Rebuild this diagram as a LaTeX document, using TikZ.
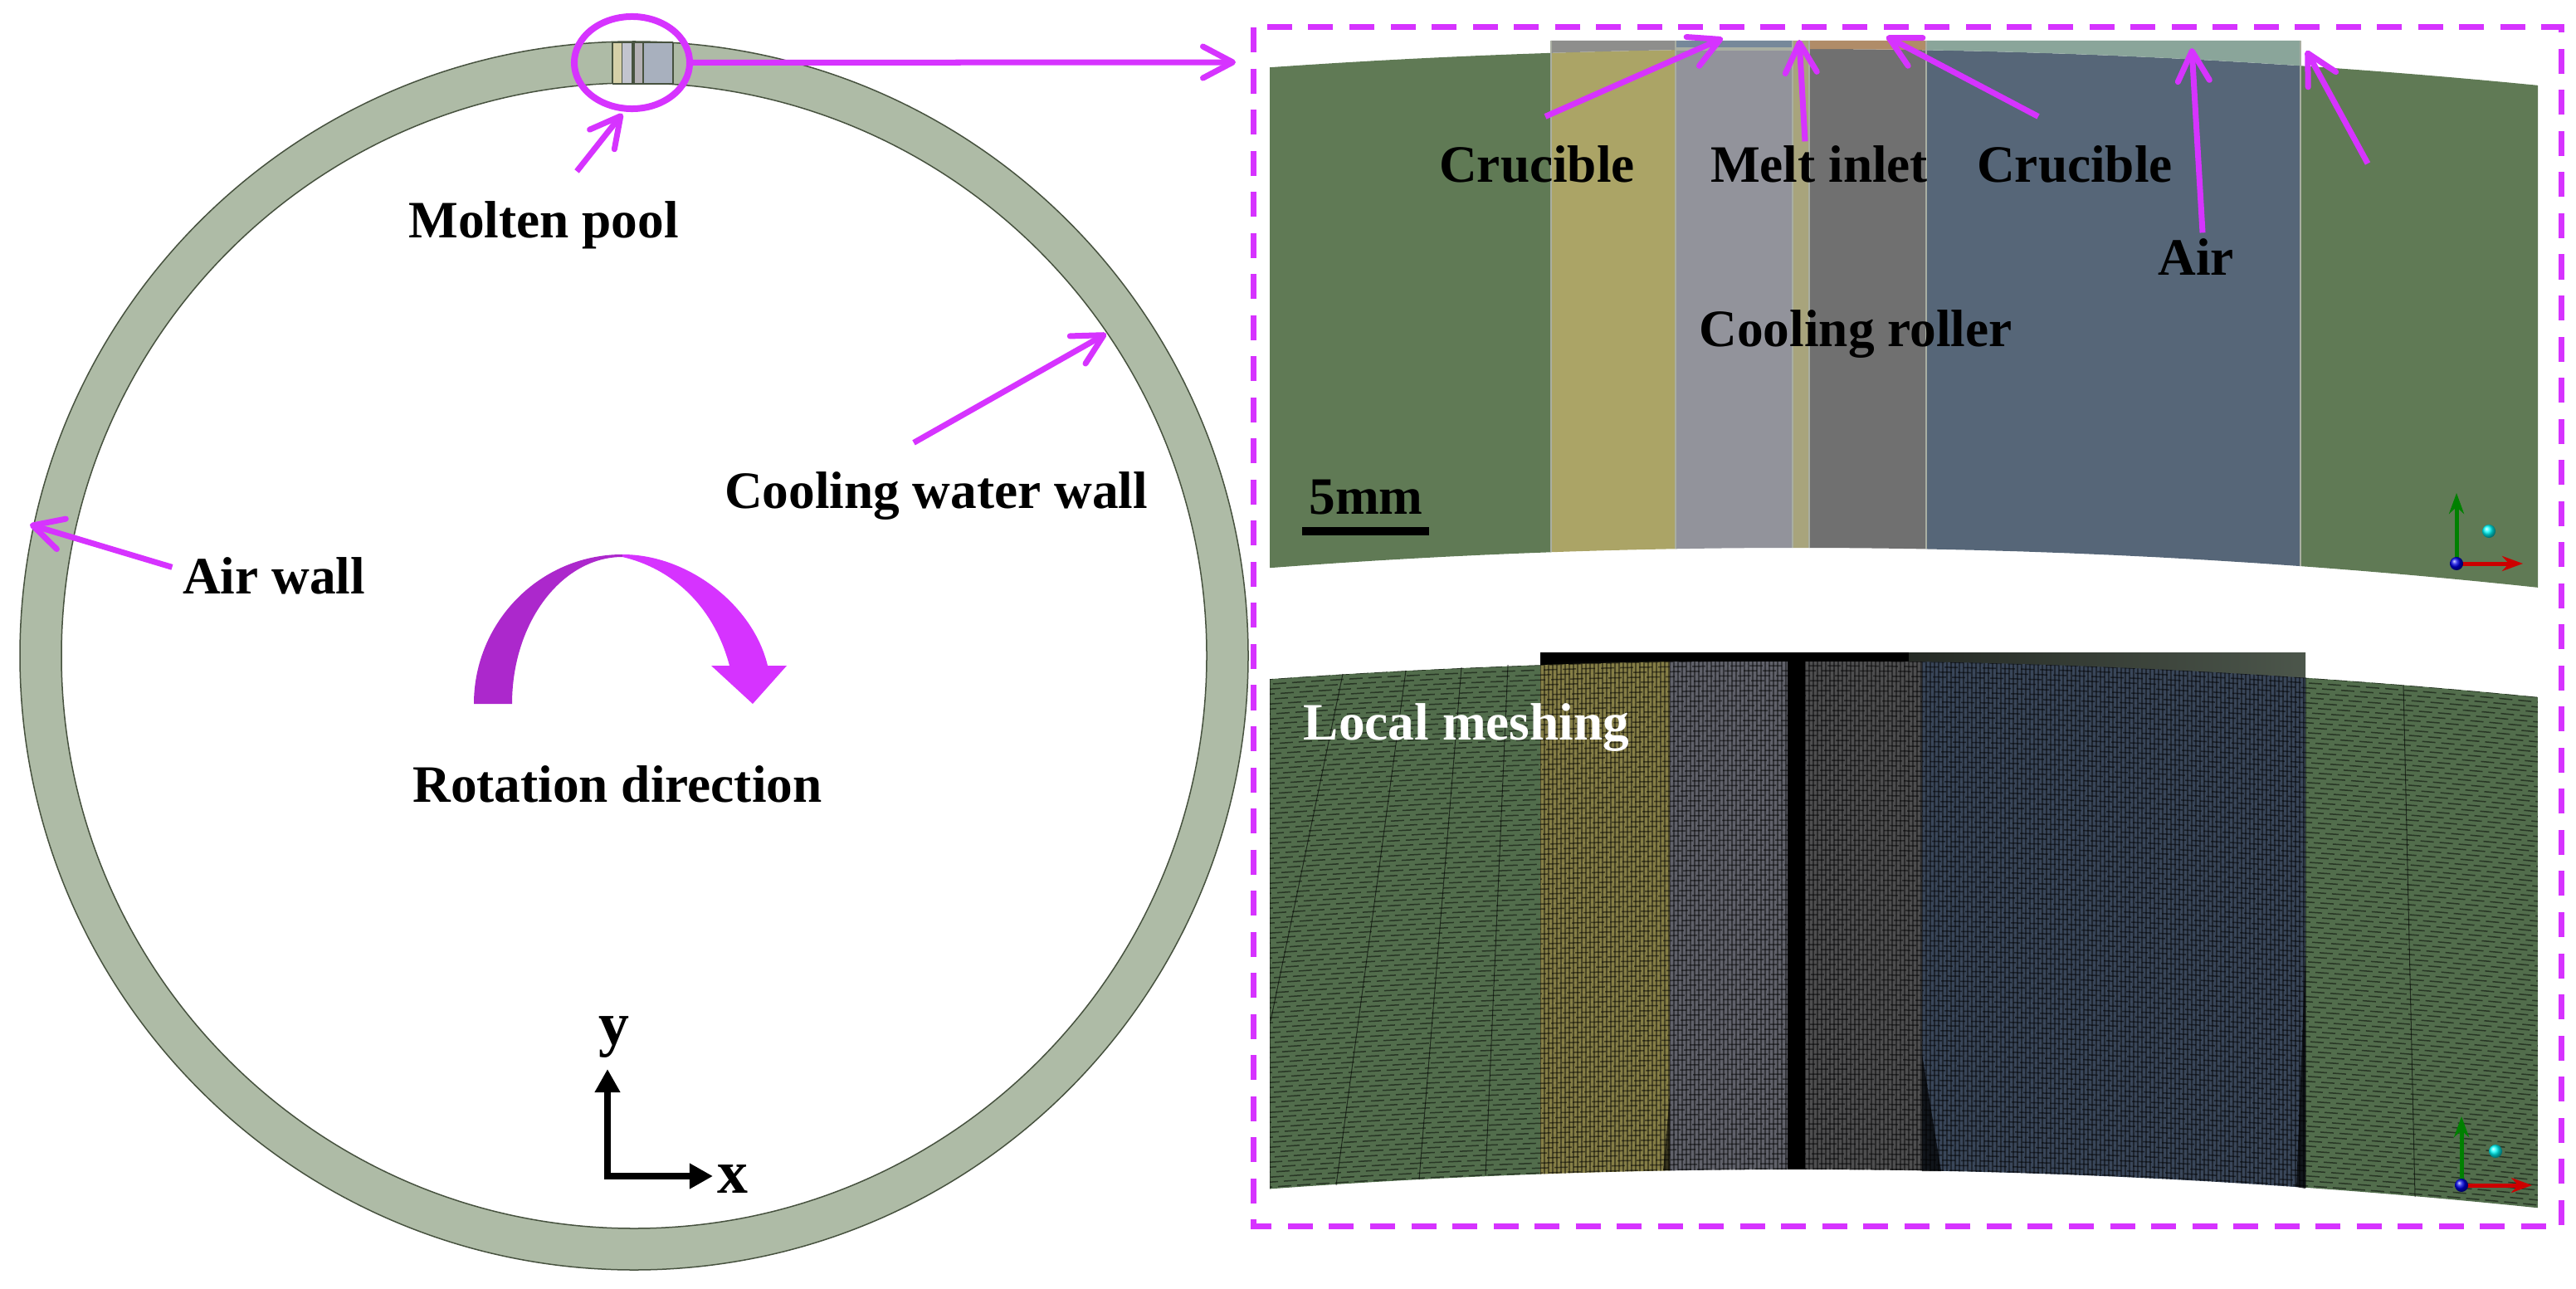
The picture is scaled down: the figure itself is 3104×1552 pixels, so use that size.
\documentclass[tikz,border=0pt]{standalone}
\usepackage{fontspec}
\setmainfont{Liberation Serif}
\usetikzlibrary{arrows.meta,shapes.geometric}
\definecolor{calloutmag}{HTML}{D633FF}
\definecolor{turnmag}{HTML}{AC28CC}
\definecolor{ringfill}{HTML}{AEBBA6}
\definecolor{ringedge}{HTML}{47523F}
\definecolor{bandgreen}{HTML}{607A55}
\definecolor{bandyellow}{HTML}{ABA466}
\definecolor{bandgrey}{HTML}{92939B}
\definecolor{bandinlet}{HTML}{A8A47C}
\definecolor{banddark}{HTML}{707070}
\definecolor{bandblue}{HTML}{566678}
\definecolor{stripgrey}{HTML}{8E8E8C}
\definecolor{stripblue}{HTML}{76889A}
\definecolor{striporange}{HTML}{B08C68}
\definecolor{stripteal}{HTML}{8AA59A}
\definecolor{paleedge}{HTML}{A9AEA2}
\definecolor{meshgreen}{HTML}{526D4C}
\definecolor{meshyellow}{HTML}{857E46}
\definecolor{meshgrey}{HTML}{60616A}
\definecolor{meshdark}{HTML}{4E4E4F}
\definecolor{meshblue}{HTML}{394659}
\definecolor{meshcap}{HTML}{4C564B}
\tikzset{
  label/.style={font=\fontsize{18}{20}\bfseries\selectfont,inner sep=0pt,anchor=base},
  axislabel/.style={font=\fontsize{21}{23}\bfseries\selectfont,inner sep=0pt,anchor=base},
  callout/.style={draw=calloutmag,line width=.07cm,-{Straight Barb[length=.36cm,width=.38cm,line width=.07cm,round]}},
  meshrow/.style={black,opacity=.5,line width=.015cm,dash pattern=on .16cm off .07cm},
  meshcol/.style={black,opacity=.45,line width=.015cm},
}
\begin{document}
\begin{tikzpicture}[x=.01cm,y=-.01cm,line cap=butt,
    declare function={bandpar(\x)=((\x-2165)/100)^2;}]
  \useasboundingbox (0,0) rectangle (3104,1552);
  % ring
  \draw[ringedge,line width=.015cm,fill=ringfill,even odd rule]
    (764,790) circle[radius=740] (764,790) circle[radius=690];
  \foreach \xa/\xb/\colname in {738/749/D6D0A8,749/761/C2C4CE,761/775/B4B0B4,775/811/A8B0BE}{
    \definecolor{poolcol}{HTML}{\colname}
    \fill[poolcol] (\xa,51) rectangle (\xb,101);
  }
  \foreach \xe/\wd in {738/.012,749/.006,763/.045,775/.012,811/.012}
    \draw[ringedge,line width=\wd cm] (\xe,51)--(\xe,101);
  \draw[ringedge,line width=.012cm] (738,51)--(811,51) (738,101)--(811,101);
  \node[draw=calloutmag,ellipse,line width=.08cm,inner sep=0pt,minimum width=1.39cm,minimum height=1.11cm]
    (zoomring) at (761.5,75.5) {};
  % turning arrow
  \fill[turnmag] (571,848) .. controls (571,749) and (651,668) .. (750,668)
    -- (750,671) .. controls (677,671) and (617,750) .. (617,848) -- cycle;
  \fill[calloutmag] (750,668) .. controls (830,668) and (908,730) .. (925,802)
    -- (948,802) -- (907,848) -- (857,802) -- (879,802)
    .. controls (860,730) and (810,685) .. (750,671) -- cycle;
  % left labels
  \node[label] (moltenpool) at (655,287) {Molten pool};
  \node[label] (waterwall) at (1128,612) {Cooling water wall};
  \node[label] (airwall) at (330,715) {Air wall};
  \node[label] (rotation) at (744,966) {Rotation direction};
  \node[axislabel] (ylabel) at (740,1258) {y};
  \node[axislabel] (xlabel) at (883,1437) {x};
  \coordinate (zoomtip) at (1489,75);
  \coordinate (moltentip) at (750,137);
  \coordinate (watertip) at (1333,402);
  \coordinate (airtip) at (36,632);
  \coordinate (axisorigin) at (732,1417);
  \coordinate (ytip) at (732,1288);
  \coordinate (xtip) at (859,1417);
  \draw[callout] (zoomring.east)--(zoomtip);
  \draw[callout] ([shift={(40,-36)}]moltenpool.north)--(moltentip);
  \draw[callout] ([shift={(-27,-34)}]waterwall.north)--(watertip);
  \draw[callout] ([shift={(-12,-10)}]airwall.west)--(airtip);
  \draw[line width=.075cm,{Triangle[length=.28cm,width=.29cm]}-{Triangle[length=.28cm,width=.29cm]}]
    (ytip)--(axisorigin)--(xtip);
  % upper band
  \foreach \xa/\xb/\colname in {1530/1869/bandgreen,1869/2019/bandyellow,2019/2160/bandgrey,
      2160/2180/bandinlet,2180/2321/banddark,2321/2772/bandblue,2772/3058/bandgreen}
    \fill[\colname] plot[domain=\xa:\xb,samples=9] (\x,{59+.55*bandpar(\x)})
      -- plot[domain=\xb:\xa,samples=9] (\x,{660+.6*bandpar(\x)}) -- cycle;
  \foreach \xa/\xb/\colname in {1869/2019/stripgrey,2019/2160/stripblue,2160/2180/bandinlet,
      2180/2321/striporange,2321/2772/stripteal}
    \fill[\colname] (\xa,49) -- (\xb,49)
      -- plot[domain=\xb:\xa,samples=9] (\x,{59+.55*bandpar(\x)}) -- cycle;
  \fill[paleedge] (2019,57) rectangle (2160,61);
  \foreach \xe in {1869,2019,2160,2180,2321,2772}
    \draw[paleedge,line width=.012cm] (\xe,49)--(\xe,{660+.6*bandpar(\xe)});
  \fill (1569,635) rectangle (1722,645);
  % lower band
  \fill[left color=black,right color=meshcap]
    (1856,786) -- (2778,786) -- (2778,820) -- (1856,820) -- cycle;
  \foreach \xa/\xb/\basecol/\vstep in {1530/1856/meshgreen/400,1856/2012/meshyellow/5,
      2012/2154/meshgrey/5,2175/2316/meshdark/5,2316/2778/meshblue/5,2778/3058/meshgreen/400}{
    \begin{scope}
      \clip plot[domain=\xa:\xb,samples=9] (\x,{796+.55*bandpar(\x)})
        -- plot[domain=\xb:\xa,samples=9] (\x,{1409+.58*bandpar(\x)}) -- cycle;
      \fill[\basecol] (\xa,780) rectangle (\xb,1470);
      \foreach \yy [count=\rowno] in {772,778,...,1450}{
        \pgfmathsetmacro{\xs}{\xa-mod(\rowno*7,23)}
        \draw[meshrow] plot[domain=\xs:\xb,samples=6] (\x,{\yy+.55*bandpar(\x)});
      }
      \pgfmathsetmacro{\xnext}{\xa+\vstep}
      \foreach \xv in {\xa,\xnext,...,\xb}
        \draw[meshcol] (\xv,780)--(\xv,1470);
    \end{scope}
  }
  \fill (2154,790) rectangle (2175,1409);
  \fill (1856,786) rectangle (2300,797);
  \fill[black,opacity=.7] (2316,1270)--(2339,1411)--(2316,1411)--cycle;
  \fill[black,opacity=.6] (2012,1320)--(2012,1410)--(2004,1410)--cycle;
  \fill[black,opacity=.7] (2778,1150)--(2778,1432)--(2767,1430)--cycle;
  \draw[black,opacity=.6,line width=.01cm] (1618,812)--(1531,1230) (1694,808)--(1610,1428)
    (1761,804)--(1710,1421) (1817,801)--(1790,1416) (2896,826)--(2910,1442);
  % triads
  \foreach \ox/\oy/\ty/\rx/\cx/\cy in {2960/679/594/3040/2999/640,2966/1428/1345/3051/3007/1387}{
    \draw[green!50!black,line width=.05cm,-{Stealth[length=.25cm,width=.18cm]}] (\ox,\oy)--(\ox,\ty);
    \draw[red!80!black,line width=.05cm,-{Stealth[length=.25cm,width=.18cm]}] (\ox,\oy)--(\rx,\oy);
    \shade[ball color=blue!90!black] (\ox,\oy) circle[radius=8];
    \shade[ball color=cyan] (\cx,\cy) circle[radius=8];
  }
  % panel labels
  \coordinate (gaptip) at (2779,61);
  \coordinate (gapfoot) at (2853,197);
  \coordinate (crucibleltip) at (2076,46);
  \coordinate (inlettip) at (2168,48);
  \coordinate (crucibleRtip) at (2273,44);
  \coordinate (airgaptip) at (2641,58);
  \node[label] (crucibleL) at (1852,220) {Crucible};
  \node[label] (meltinlet) at (2192,220) {Melt inlet};
  \node[label] (crucibleR) at (2500,220) {Crucible};
  \node[label] (airgap) at (2646,332) {Air};
  \node[label] (roller) at (2236,417) {Cooling roller};
  \node[label] (scalemark) at (1646,619) {5mm};
  \node[label,white] (localmesh) at (1767,891) {Local meshing};
  \draw[callout] ([shift={(10,-35)}]crucibleL.north)--(crucibleltip);
  \draw[callout] ([shift={(-17,-5)}]meltinlet.north)--(inlettip);
  \draw[callout] ([shift={(-44,-35)}]crucibleR.north)--(crucibleRtip);
  \draw[callout] ([shift={(8,-7)}]airgap.north)--(airgaptip);
  \draw[callout] (gapfoot)--(gaptip);
  \draw[calloutmag,line width=.07cm,dash pattern=on .3cm off .195cm] (1510,33) rectangle (3086,1477);
\end{tikzpicture}
\end{document}
